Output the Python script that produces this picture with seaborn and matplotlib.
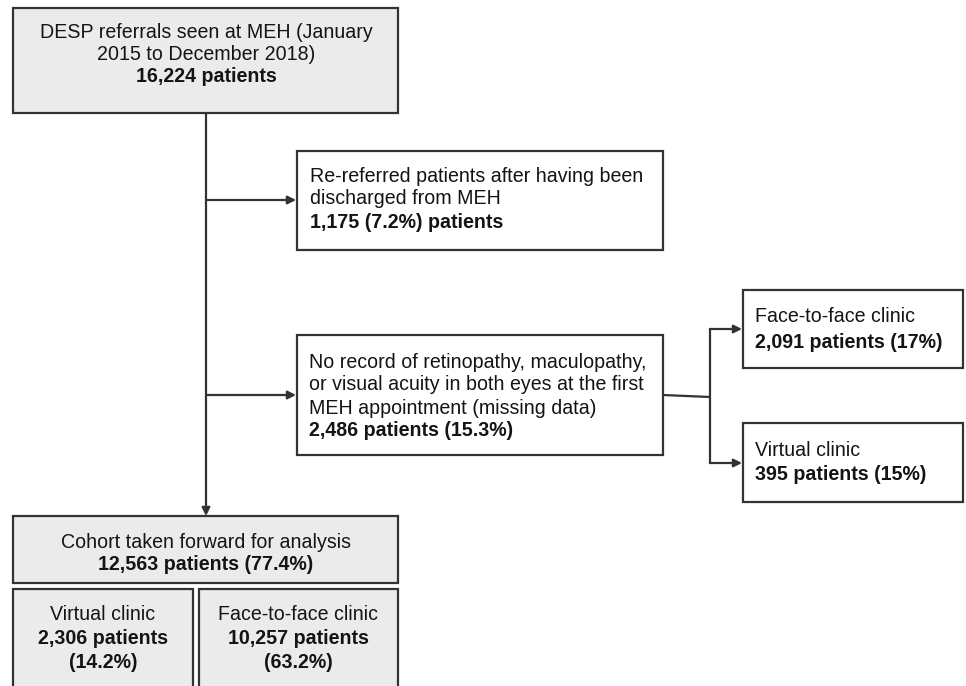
import matplotlib
matplotlib.use("Agg")
import matplotlib.pyplot as plt
import seaborn as sns
from matplotlib.patches import Rectangle

# flow counts and percentages
stages = ["total", "rereferred", "missing", "missing_f2f", "missing_virtual",
          "cohort", "cohort_virtual", "cohort_f2f"]
patients = [16224, 1175, 2486, 2091, 395, 12563, 2306, 10257]
percents = [None, 7.2, 15.3, 17, 15, 77.4, 14.2, 63.2]
descriptions = [
    ["DESP referrals seen at MEH (January", "2015 to December 2018)"],
    ["Re-referred patients after having been", "discharged from MEH"],
    ["No record of retinopathy, maculopathy,", "or visual acuity in both eyes at the first",
     "MEH appointment (missing data)"],
    ["Face-to-face clinic"],
    ["Virtual clinic"],
    ["Cohort taken forward for analysis"],
    ["Virtual clinic"],
    ["Face-to-face clinic"],
]

sns.set_theme(style="white")
plt.rcParams["font.family"] = ["Liberation Sans", "DejaVu Sans"]

EDGE = "#333333"
GREY = "#ebebeb"
FS = 14.1

fig = plt.figure(figsize=(9.66, 6.86), dpi=100)
ax = fig.add_axes([0, 0, 1, 1])
ax.set_xlim(0, 966)
ax.set_ylim(686, 0)
ax.axis("off")


def box(x0, y0, x1, y1, fill):
    ax.add_patch(Rectangle((x0, y0), x1 - x0, y1 - y0, facecolor=fill,
                           edgecolor=EDGE, lw=1.6, zorder=2))


def lines(x, ys, texts, bolds, ha):
    # ys are the visual line centres; draw on a baseline so spacing stays even
    for y, t, b in zip(ys, texts, bolds):
        ax.text(x, y + 5.5, t, ha=ha, va="baseline", fontsize=FS,
                fontweight="bold" if b else "normal", color="#141414", zorder=3)


def arrow(p0, p1):
    ax.annotate("", xy=p1, xytext=p0,
                arrowprops=dict(arrowstyle="-|>", mutation_scale=12, lw=1.6,
                                color=EDGE, shrinkA=0, shrinkB=0), zorder=1)


def count_line(i, pct_first=False):
    if pct_first:
        return f"{patients[i]:,} ({percents[i]}%) patients"
    if percents[i] is None:
        return f"{patients[i]:,} patients"
    return f"{patients[i]:,} patients ({percents[i]:g}%)"


# boxes
box(13, 8, 398, 113, GREY)
box(297, 151, 663, 250, "white")
box(297, 335, 663, 455, "white")
box(743, 290, 963, 368, "white")
box(743, 423, 963, 502, "white")
box(13, 516, 398, 583, GREY)
box(13, 589, 193, 700, GREY)
box(199, 589, 398, 700, GREY)

# connectors
ax.plot([206, 206], [113, 200], color=EDGE, lw=1.6, zorder=1)
arrow((206, 200), (206, 516))
arrow((206, 200), (296, 200))
arrow((206, 395), (296, 395))
ax.plot([663, 710], [395, 397], color=EDGE, lw=1.6, zorder=1)
ax.plot([710, 710], [329, 463], color=EDGE, lw=1.6, zorder=1)
arrow((710, 329), (742, 329))
arrow((710, 463), (742, 463))

# texts
lines(206, [32, 54, 76], descriptions[0] + [count_line(0)], [0, 0, 1], "center")
lines(310, [176, 199, 222], descriptions[1] + [count_line(1, True)], [0, 0, 1], "left")
lines(309, [362, 385, 408, 431], descriptions[2] + [count_line(2)], [0, 0, 0, 1], "left")
lines(755, [317, 342], descriptions[3] + [count_line(3)], [0, 1], "left")
lines(755, [450, 475], descriptions[4] + [count_line(4)], [0, 1], "left")
lines(206, [542, 565], descriptions[5] + [count_line(5)], [0, 1], "center")
lines(103, [615, 638, 662], descriptions[6] + [f"{patients[6]:,} patients", f"({percents[6]}%)"],
      [0, 1, 1], "center")
lines(298, [615, 638, 662], descriptions[7] + [f"{patients[7]:,} patients", f"({percents[7]}%)"],
      [0, 1, 1], "center")

fig.savefig("out.png", dpi=100)
